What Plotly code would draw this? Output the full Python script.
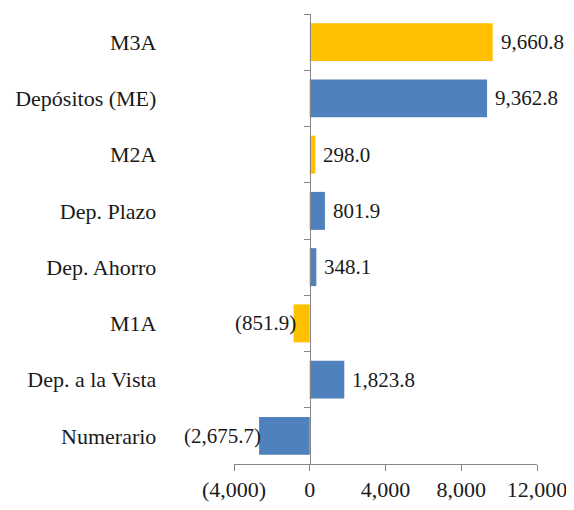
import plotly.graph_objects as go

# Data (top to bottom as shown in the chart)
categories = ['M3A', 'Depósitos (ME)', 'M2A', 'Dep. Plazo', 'Dep. Ahorro',
              'M1A', 'Dep. a la Vista', 'Numerario']
values     = [9660.8, 9362.8, 298.0, 801.9, 348.1, -851.9, 1823.8, -2675.7]
is_agg     = [True, False, True, False, False, True, False, False]

x_ticks    = [-4000, 0, 4000, 8000, 12000]
x_labels   = ['(4,000)', '0', '4,000', '8,000', '12,000']

yellow = '#FFC000'
blue   = '#4F81BD'
axis_c = '#868686'
font   = dict(family='Liberation Serif', size=22, color='#1a1a1a')
lfont  = dict(family='Liberation Serif', size=21, color='#1a1a1a')

# Function: accounting style number, negatives in parentheses
def fmt(v):
    s = '{:,.1f}'.format(abs(v))
    return '(' + s + ')' if v < 0 else s

colors = [yellow if a else blue for a in is_agg]

bars = go.Bar(x            = values,
              y            = categories,
              orientation  = 'h',
              marker       = dict(color=colors, line=dict(width=0)),
              width        = 0.675,
              cliponaxis   = False,
              hoverinfo    = 'none')

# page body has an 8px margin, so the figure is 8px smaller on each side
layout = go.Layout(width        = 566,
                   height       = 502,
                   showlegend   = False,
                   margin       = dict(l=226, r=37, t=6, b=46),
                   plot_bgcolor = 'white',
                   paper_bgcolor= 'white',
                   font         = font,
                   xaxis        = dict(range      = [-4000, 12000],
                                       tickmode   = 'array',
                                       tickvals   = x_ticks,
                                       ticktext   = x_labels,
                                       automargin = False,
                                       showgrid   = False,
                                       zeroline   = False,
                                       showline   = True,
                                       linecolor  = axis_c,
                                       linewidth  = 1,
                                       ticks      = 'outside',
                                       ticklen    = 6,
                                       tickcolor  = axis_c,
                                       tickfont   = font),
                   yaxis        = dict(categoryorder = 'array',
                                       categoryarray = categories[::-1],
                                       anchor     = 'free',
                                       position   = 0.25,
                                       automargin = False,
                                       showgrid   = False,
                                       zeroline   = False,
                                       showline   = True,
                                       linecolor  = axis_c,
                                       linewidth  = 1,
                                       ticks      = 'outside',
                                       tickson    = 'boundaries',
                                       ticklen    = 6,
                                       tickcolor  = axis_c,
                                       ticklabelstandoff = 149,
                                       tickfont   = font),
                   bargap       = 0.325)

fig = go.Figure(data=[bars], layout=layout)

# data labels: right of positive bars, left of negative bars
for c, v in zip(categories, values):
    fig.add_annotation(x         = v,
                       y         = c,
                       text      = fmt(v),
                       showarrow = False,
                       xanchor   = 'left' if v >= 0 else 'right',
                       xshift    = 6 if v >= 0 else 4,
                       font      = lfont)

fig.write_html('out.html')
